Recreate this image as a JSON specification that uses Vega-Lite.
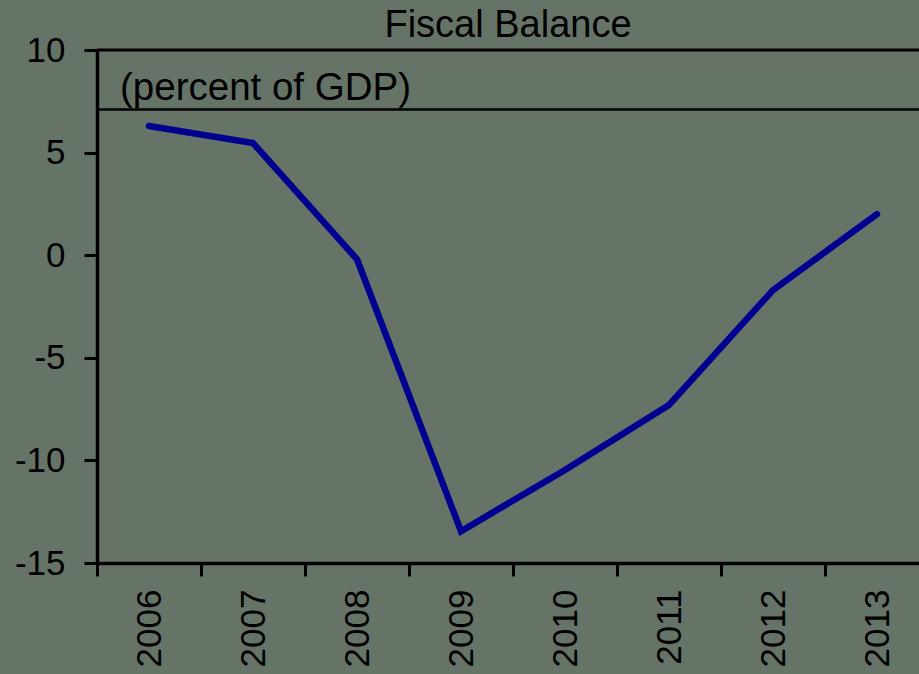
{
  "$schema": "https://vega.github.io/schema/vega-lite/v6.json",
  "width": 822,
  "height": 513,
  "autosize": {"type": "none"},
  "padding": {"left": 97, "top": 50, "right": 0, "bottom": 111},
  "background": "#667468",
  "config": {"view": {"stroke": null}, "font": "Liberation Sans"},
  "title": {"text": "Fiscal Balance", "fontSize": 38, "fontWeight": "normal", "color": "black", "anchor": "middle", "offset": 10, "dy": 22, "font": "Liberation Sans"},
  "layer": [
    {
      "data": {"values": [
        {"year": "2006", "value": 6.3},
        {"year": "2007", "value": 5.47},
        {"year": "2008", "value": -0.2},
        {"year": "2009", "value": -13.45},
        {"year": "2010", "value": -10.47},
        {"year": "2011", "value": -7.3},
        {"year": "2012", "value": -1.7},
        {"year": "2013", "value": 2.0}
      ]},
      "mark": {"type": "line", "color": "#000090", "strokeWidth": 6.5, "strokeCap": "round"},
      "encoding": {
        "x": {"field": "year", "type": "ordinal",
          "scale": {"type": "band", "range": [0, 832], "paddingInner": 0, "paddingOuter": 0},
          "axis": {"title": null, "labelAngle": -90, "tickBand": "extent", "tickSize": 13, "tickWidth": 3, "tickColor": "black", "domainWidth": 3.5, "domainColor": "black", "labelFontSize": 35, "labelPadding": 13, "labelColor": "black", "labelFont": "Liberation Sans"}},
        "y": {"field": "value", "type": "quantitative",
          "scale": {"domain": [-15, 10], "nice": false, "zero": false},
          "axis": {"values": [-15, -10, -5, 0, 5, 10], "labelExpr": "replace(datum.label, '\u2212', '-')", "title": null, "grid": false, "domainColor": "black", "domainWidth": 3.5, "tickColor": "black", "tickWidth": 3, "tickSize": 13, "labelFontSize": 35, "labelColor": "black", "labelPadding": 19, "labelFont": "Liberation Sans"}}
      }
    },
    {
      "data": {"values": [{"y": 10, "w": 3}, {"y": 7.1, "w": 2.5}]},
      "mark": {"type": "rule", "color": "black"},
      "encoding": {
        "y": {"field": "y", "type": "quantitative"},
        "strokeWidth": {"field": "w", "type": "quantitative", "scale": null, "legend": null}
      }
    },
    {
      "data": {"values": [{"year": "2006", "y": 7.56, "label": "(percent of GDP)"}]},
      "mark": {"type": "text", "align": "left", "baseline": "alphabetic", "dx": 23, "fontSize": 38.5, "color": "black", "font": "Liberation Sans"},
      "encoding": {
        "x": {"field": "year", "type": "ordinal", "bandPosition": 0},
        "y": {"field": "y", "type": "quantitative"},
        "text": {"field": "label"}
      }
    }
  ]
}
